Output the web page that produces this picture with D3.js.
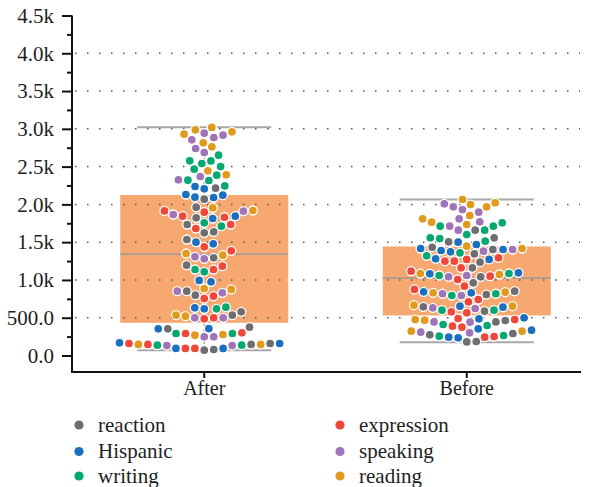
<!DOCTYPE html>
<html>
<head>
<meta charset="utf-8">
<script src="https://cdn.jsdelivr.net/npm/d3@7"></script>
<style>
  html, body { margin: 0; padding: 0; background: #fff; }
  svg { display: block; }
  svg text { font-family: "Liberation Serif", "Times New Roman", Times, "DejaVu Serif", serif; fill: #1e1e1e; }
</style>
</head>
<body>
<svg id="chart" width="595" height="487"></svg>
<script>
// ---- data ----
const groups = ["After", "Before"];
const seriesNames = ["reaction", "expression", "Hispanic", "speaking", "writing", "reading"];
const seriesColors = ["#6e6e72", "#ef473a", "#1a6fbf", "#a173b8", "#06a872", "#e19a1c"];

const afterReaction   = [2214, 2069, 1963, 1822, 1734, 1637, 1623, 1535, 1293, 1196, 799, 852, 534, 578, 375, 353, 146, 79, 71, 159];
const afterExpression = [1914, 1844, 1830, 1897, 1681, 1734, 1438, 1385, 1182, 1138, 785, 754, 498, 485, 300, 291, 159, 93, 93, 146];
const afterHispanic   = [2237, 2206, 2131, 2095, 2091, 2122, 1844, 1813, 1478, 1500, 975, 993, 618, 631, 357, 353, 159, 93, 93, 168];
const afterSpeaking   = [2916, 2885, 2942, 2740, 2855, 2687, 2369, 2325, 1910, 1866, 1279, 1306, 830, 852, 498, 498, 247, 247, 132, 132];
const afterWriting    = [2651, 2577, 2541, 2575, 2501, 2466, 2320, 2316, 2386, 2245, 1756, 1711, 1107, 1138, 640, 618, 291, 291, 137, 137];
const afterReading    = [2987, 3018, 2929, 2960, 2762, 2815, 2391, 2444, 1954, 1919, 1328, 1350, 887, 874, 534, 520, 278, 269, 146, 146];

const beforeReaction   = [1659, 1557, 1504, 1433, 1346, 1403, 1235, 1160, 962, 1041, 852, 807, 644, 587, 463, 445, 291, 273, 185, 180];
const beforeExpression = [1293, 1249, 1160, 1249, 1271, 1050, 917, 1006, 1116, 874, 741, 710, 578, 565, 490, 476, 375, 388, 251, 243];
const beforeHispanic   = [1500, 1469, 1416, 1390, 1372, 1403, 1271, 1279, 1094, 1081, 830, 843, 640, 653, 485, 498, 335, 353, 234, 243];
const beforeSpeaking   = [2007, 1932, 1968, 1897, 1809, 1769, 1711, 1659, 1381, 1403, 1059, 1041, 794, 817, 631, 622, 441, 445, 309, 300];
const beforeWriting    = [1756, 1711, 1659, 1711, 1557, 1513, 1601, 1548, 1359, 1319, 1085, 1059, 817, 794, 600, 600, 410, 397, 256, 265];
const beforeReading    = [2065, 1968, 1998, 2021, 1853, 1809, 1734, 1765, 1447, 1416, 1072, 1085, 838, 830, 653, 666, 476, 467, 322, 322];

// box summary per group: [whisker low, q1, median, q3, whisker high]
const afterBox  = [71, 433, 1340, 2124, 3022];
const beforeBox = [177, 530, 1026, 1443, 2065];

const yTicks = [0, 500, 1000, 1500, 2000, 2500, 3000, 3500, 4000, 4500];

// ---- assemble ----
const groupSeries = {
  After:  [afterReaction, afterExpression, afterHispanic, afterSpeaking, afterWriting, afterReading],
  Before: [beforeReaction, beforeExpression, beforeHispanic, beforeSpeaking, beforeWriting, beforeReading]
};
const groupBox = { After: afterBox, Before: beforeBox };

const svg = d3.select("#chart");

const y = d3.scaleLinear().domain([0, 4500]).range([355.5, 15.5]);
const x = d3.scaleBand().domain(groups).range([73, 598]).paddingInner(0).paddingOuter(0);
const boxWidth = 168, capWidth = 134;
const plotLeft = 72, plotRight = 581, axisBottomY = 372;

// boxes
const boxG = svg.append("g");
groups.forEach(g => {
  const [lo, q1, med, q3, hi] = groupBox[g];
  const cx = x(g) + x.bandwidth() / 2;
  boxG.append("rect")
    .attr("x", cx - boxWidth / 2).attr("width", boxWidth)
    .attr("y", y(q3)).attr("height", y(q1) - y(q3))
    .attr("fill", "#f7a871");
  boxG.append("line")
    .attr("x1", cx - boxWidth / 2).attr("x2", cx + boxWidth / 2)
    .attr("y1", y(med)).attr("y2", y(med))
    .attr("stroke", "#9a9a9a").attr("stroke-width", 1.6);
  [lo, hi].forEach(v => {
    boxG.append("line")
      .attr("x1", cx - capWidth / 2).attr("x2", cx + capWidth / 2)
      .attr("y1", y(v)).attr("y2", y(v))
      .attr("stroke", "#a8a8a8").attr("stroke-width", 2);
  });
  boxG.append("line")
    .attr("x1", cx).attr("x2", cx)
    .attr("y1", y(hi)).attr("y2", y(q3))
    .attr("stroke", "#888").attr("stroke-width", 1.2).attr("stroke-dasharray", "3,3");
  boxG.append("line")
    .attr("x1", cx).attr("x2", cx)
    .attr("y1", y(q1)).attr("y2", y(lo))
    .attr("stroke", "#888").attr("stroke-width", 1.2).attr("stroke-dasharray", "3,3");
});

// dotted grid
const gridG = svg.append("g");
yTicks.filter(v => v > 0 && v < 4500).forEach(v => {
  gridG.append("line")
    .attr("x1", 75).attr("x2", 580)
    .attr("y1", y(v)).attr("y2", y(v))
    .attr("stroke", "#555").attr("stroke-width", 1.5)
    .attr("stroke-dasharray", "1.5,10.5");
});

// swarm placement: ascending values, each point takes the free offset closest to the centre
function swarm(points, d) {
  const order = points.slice().sort((a, b) => a.value - b.value);
  const placed = [];
  order.forEach(p => {
    p.py = y(p.value);
    const near = placed.filter(q => Math.abs(q.py - p.py) < d);
    const cands = [0];
    near.forEach(q => {
      const dy = p.py - q.py;
      const dx = Math.sqrt(d * d - dy * dy);
      cands.push(q.dx + dx, q.dx - dx);
    });
    cands.sort((a, b) => (Math.abs(a) - Math.abs(b)) || (b - a));
    let best = cands[cands.length - 1];
    for (const c of cands) {
      const ok = near.every(q => {
        const ddx = c - q.dx, ddy = p.py - q.py;
        return ddx * ddx + ddy * ddy >= d * d - 1e-6;
      });
      if (ok) { best = c; break; }
    }
    p.dx = best;
    placed.push(p);
  });
  return order;
}

const pointG = svg.append("g");
groups.forEach(g => {
  const pts = [];
  groupSeries[g].forEach((vals, si) => vals.forEach(v => pts.push({ value: v, series: si })));
  const placed = swarm(pts, 9.5);
  const cx = x(g) + x.bandwidth() / 2;
  pointG.selectAll(null).data(placed).join("circle")
    .attr("cx", d => cx + d.dx)
    .attr("cy", d => d.py)
    .attr("r", 4.5)
    .attr("fill", d => seriesColors[d.series])
    .attr("stroke", "#fff").attr("stroke-width", 1.3);
});

// y axis
const fmt = v => v === 0 ? "0.0" : v < 1000 ? d3.format(".1f")(v) : (v / 1000).toFixed(1) + "k";
const yAxisG = svg.append("g").attr("transform", `translate(${plotLeft},0)`)
  .call(d3.axisLeft(y).tickValues(yTicks).tickSize(10).tickPadding(8).tickFormat(fmt))
  .call(g => g.select(".domain").remove());
yAxisG.selectAll(".tick line").attr("stroke", "#111").attr("stroke-width", 2);
yAxisG.selectAll(".tick text").style("font-size", "21px").attr("fill", "#1e1e1e");
svg.append("g").attr("transform", `translate(${plotLeft},0)`)
  .call(d3.axisLeft(y).tickValues(d3.range(250, 4500, 500)).tickSize(5).tickFormat(""))
  .call(g => g.select(".domain").remove())
  .selectAll(".tick line").attr("stroke", "#111").attr("stroke-width", 2);
svg.append("line")
  .attr("x1", plotLeft).attr("x2", plotLeft)
  .attr("y1", y(4500)).attr("y2", axisBottomY + 1)
  .attr("stroke", "#111").attr("stroke-width", 2);

// x axis
const xAxisG = svg.append("g").attr("transform", `translate(0,${axisBottomY})`)
  .call(d3.axisBottom(x).tickSize(6).tickPadding(3))
  .call(g => g.select(".domain").remove());
xAxisG.selectAll(".tick line").attr("stroke", "#111").attr("stroke-width", 2);
xAxisG.selectAll(".tick text").style("font-size", "20px").attr("fill", "#1e1e1e");
svg.append("line")
  .attr("x1", plotLeft - 1).attr("x2", plotRight)
  .attr("y1", axisBottomY).attr("y2", axisBottomY)
  .attr("stroke", "#111").attr("stroke-width", 2);

// legend
const legendRows = [425, 451.5, 476];
const legendCols = [79, 340];
const legendG = svg.append("g");
seriesNames.forEach((name, i) => {
  const col = i % 2, row = Math.floor(i / 2);
  const gx = legendCols[col], gy = legendRows[row];
  legendG.append("circle").attr("cx", gx).attr("cy", gy).attr("r", 4.6).attr("fill", seriesColors[i]);
  legendG.append("text").attr("x", gx + 19).attr("y", gy).attr("dy", "0.33em")
    .style("font-size", "21px").text(name);
});
</script>
</body>
</html>
